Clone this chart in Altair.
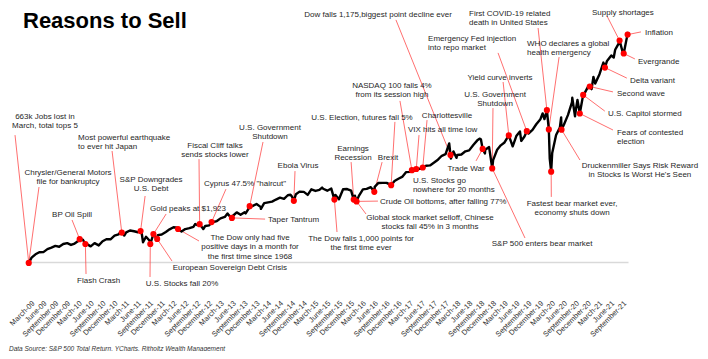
import altair as alt
import pandas as pd

# S&P 500 total return, growth of $100 from the March 2009 low
line_dates = [
    "2009-03-31", "2009-04-30", "2009-05-29", "2009-06-30", "2009-07-31", "2009-08-31", "2009-09-30", "2009-10-30", "2009-11-30", "2009-12-31",
    "2010-01-29", "2010-02-26", "2010-03-31", "2010-04-30", "2010-05-31", "2010-06-30", "2010-07-30", "2010-08-31", "2010-09-30", "2010-10-29", "2010-11-30", "2010-12-31",
    "2011-01-31", "2011-02-18", "2011-02-28", "2011-03-16", "2011-03-31", "2011-04-29", "2011-05-31", "2011-06-30", "2011-07-29", "2011-08-08", "2011-08-31", "2011-09-30", "2011-10-31", "2011-11-30", "2011-12-30",
    "2012-01-31", "2012-02-29", "2012-03-30", "2012-04-30", "2012-05-31", "2012-06-29", "2012-07-31", "2012-08-31", "2012-09-14", "2012-09-28", "2012-10-31", "2012-11-15", "2012-11-30", "2012-12-31",
    "2013-01-31", "2013-02-28", "2013-03-28", "2013-04-30", "2013-05-21", "2013-05-31", "2013-06-28", "2013-07-31", "2013-08-30", "2013-09-30", "2013-10-08", "2013-10-31", "2013-11-29", "2013-12-31",
    "2014-01-31", "2014-02-03", "2014-02-28", "2014-03-31", "2014-04-30", "2014-05-30", "2014-06-30", "2014-07-31", "2014-08-29", "2014-09-19", "2014-09-30", "2014-10-31", "2014-11-28", "2014-12-31",
    "2015-01-30", "2015-02-27", "2015-03-31", "2015-04-30", "2015-05-21", "2015-05-29", "2015-06-30", "2015-07-31", "2015-08-31", "2015-09-28", "2015-10-30", "2015-11-30", "2015-12-31",
    "2016-01-29", "2016-02-29", "2016-03-31", "2016-04-29", "2016-05-31", "2016-06-30", "2016-07-29", "2016-08-31", "2016-09-30", "2016-10-31", "2016-11-30", "2016-12-30",
    "2017-01-31", "2017-02-28", "2017-03-31", "2017-04-28", "2017-05-31", "2017-06-30", "2017-07-31", "2017-08-31", "2017-09-29", "2017-10-31", "2017-11-30", "2017-12-29",
    "2018-01-26", "2018-02-08", "2018-02-28", "2018-03-23", "2018-03-29", "2018-04-30", "2018-05-31", "2018-06-29", "2018-07-31", "2018-08-31", "2018-09-20", "2018-09-28", "2018-10-29", "2018-10-31", "2018-11-30", "2018-12-31",
    "2019-01-31", "2019-02-28", "2019-03-29", "2019-05-31", "2019-06-28", "2019-07-26", "2019-08-05", "2019-08-30", "2019-09-30", "2019-10-31", "2019-11-29", "2019-12-31",
    "2020-01-17", "2020-01-31", "2020-03-12", "2020-03-31", "2020-04-30", "2020-05-29", "2020-06-08", "2020-06-30", "2020-07-31", "2020-08-31", "2020-09-02", "2020-09-23", "2020-09-30", "2020-10-12", "2020-11-30", "2020-12-31",
    "2021-01-29", "2021-02-12", "2021-02-26", "2021-03-31", "2021-04-30", "2021-05-28", "2021-06-30", "2021-07-19", "2021-07-30", "2021-08-31", "2021-09-30", "2021-10-29", "2021-11-05",
]
line_values = [
    114.7, 125.7, 132.6, 132.8, 142.9, 148.1, 153.6, 150.8, 159.9, 162.9,
    156.9, 161.6, 171.4, 174.4, 160.3, 152.1, 162.8, 155.3, 169.2, 175.7, 175.7, 187.6,
    192.1, 200.9, 198.7, 188.2, 198.8, 204.9, 202.4, 199.1, 195.1, 166.0, 184.3, 170.0, 190.2, 189.7, 191.6,
    200.2, 208.9, 215.7, 214.5, 201.3, 209.7, 212.7, 217.4, 226.8, 223.1, 218.9, 210.0, 219.9, 221.9,
    233.4, 236.5, 245.4, 250.2, 261.7, 255.9, 252.5, 265.4, 257.5, 265.8, 261.8, 278.0, 286.3, 293.5,
    283.7, 277.0, 296.3, 298.8, 301.3, 308.2, 314.4, 310.3, 322.5, 324.2, 318.1, 325.9, 334.6, 333.8,
    323.8, 342.3, 336.9, 340.2, 348.2, 344.3, 337.7, 344.8, 323.8, 309.2, 342.6, 343.2, 337.9,
    321.3, 320.5, 342.2, 343.6, 349.6, 350.5, 363.5, 363.6, 363.8, 357.2, 370.1, 377.5,
    384.7, 399.7, 400.3, 404.3, 409.8, 412.4, 420.9, 422.0, 430.7, 441.1, 454.1, 459.4,
    495.0, 445.0, 468.4, 447.2, 456.6, 458.4, 469.0, 472.1, 490.0, 505.5, 511.3, 508.5, 461.6, 474.1, 483.0, 439.5,
    474.3, 488.9, 498.5, 485.5, 519.9, 535.3, 503.6, 518.5, 528.4, 540.2, 559.1, 576.1,
    595.1, 576.5, 444.6, 463.7, 523.3, 547.9, 582.1, 558.6, 590.4, 632.8, 647.3, 585.9, 608.7, 640.0, 657.8, 682.8,
    676.3, 717.2, 695.1, 725.9, 764.7, 770.2, 788.3, 781.8, 807.4, 832.2, 793.5, 849.6, 867.0,
]

# marked events (red dots), also points of the line
event_keys = ["start", "bp", "flash", "quake", "downgrade", "fall20", "gold", "euro", "dow5", "cliff",
              "cyprus", "taper", "shutdown13", "ebola", "dow1000", "earnings", "selloff", "brexit", "election",
              "nasdaq", "vix", "charlottesville", "dow1175", "tradewar", "bear18", "yield", "repo", "covid",
              "who", "fastest", "drucken", "contested", "capitol", "secondwave", "delta", "supply",
              "evergrande", "inflation"]
event_dates = ["2009-03-09", "2010-04-06", "2010-05-20", "2011-02-25", "2011-07-20", "2011-10-03", "2011-10-27",
               "2011-11-25", "2012-05-04", "2012-10-18", "2013-01-18", "2013-06-24", "2013-11-08", "2014-10-15",
               "2015-08-24", "2016-01-20", "2016-02-11", "2016-06-27", "2016-11-04", "2017-04-13", "2017-05-17",
               "2017-07-06", "2018-02-05", "2018-10-11", "2018-12-24", "2019-05-01", "2019-09-17", "2020-02-19",
               "2020-03-05", "2020-03-23", "2020-06-11", "2020-10-30", "2020-11-25", "2021-01-15", "2021-05-12",
               "2021-09-02", "2021-10-04", "2021-11-03"]
event_values = [97, 176, 160, 198, 203, 160, 193, 177, 210, 226, 233, 247, 286, 304, 308, 308, 302, 334, 356,
                406, 410, 415, 457, 477, 412, 522, 536, 606, 542, 401, 541, 595, 657, 685, 748, 838, 795, 858]

# annotations: text, event, align, label position (date, value), leader end near the label (date, value)
annotations = [
    ("663k Jobs lost in\nMarch, total tops 5", "start", "center", "2009-07-12", 598, "2008-11-23", 523),
    ("Chrysler/General Motors\nfile for bankruptcy", "start", "center", "2010-01-06", 411, "2009-05-27", 350),
    ("BP Oil Spill", "bp", "center", "2010-02-06", 271, "2010-02-06", 240),
    ("Flash Crash", "flash", "center", "2010-08-30", 51, "2010-05-25", 60),
    ("Most powerful earthquake\nto ever hit Japan", "quake", "left", "2010-03-25", 528, "2010-12-12", 470),
    ("S&P Downgrades\nU.S. Debt", "downgrade", "center", "2011-10-09", 388, "2011-08-24", 320),
    ("Gold peaks at $1,923", "gold", "center", "2012-07-20", 291, "2012-02-02", 260),
    ("U.S. Stocks fall 20%", "fall20", "center", "2012-06-04", 41, "2011-10-01", 50),
    ("European Sovereign Debt Crisis", "euro", "center", "2013-06-08", 94, "2012-03-19", 103),
    ("Fiscal Cliff talks\nsends stocks lower", "cliff", "center", "2013-02-13", 501, "2012-10-13", 443),
    ("Cyprus 47.5% \"haircut\"", "cyprus", "left", "2012-11-20", 374, "2013-05-09", 343),
    ("The Dow only had five\npositive days in a month for\nthe first time since 1968", "dow5", "center", "2013-11-11", 194, "2012-10-13", 170),
    ("Taper Tantrum", "taper", "left", "2014-03-30", 254, "2014-03-07", 243),
    ("U.S. Government\nShutdown", "shutdown13", "center", "2014-04-14", 561, "2014-02-19", 500),
    ("Ebola Virus", "ebola", "center", "2014-11-16", 434, "2014-10-24", 403),
    ("The Dow falls 1,000 points for\nthe first time ever", "dow1000", "center", "2016-03-17", 191, "2015-09-13", 200),
    ("Earnings\nRecession", "earnings", "center", "2016-01-15", 491, "2015-12-31", 433),
    ("Brexit", "brexit", "center", "2016-10-11", 461, "2016-08-26", 433),
    ("Crude Oil bottoms, after falling 77%", "selloff", "left", "2016-08-10", 314, "2016-07-25", 303),
    ("Global stock market selloff, Chinese\nstocks fall 45% in 3 months", "selloff", "center", "2017-08-31", 261, "2016-04-24", 260),
    ("U.S. Election, futures fall 5%", "election", "center", "2016-03-24", 594, "2016-12-03", 567),
    ("NASDAQ 100 falls 4%\nfrom its  session high", "nasdaq", "center", "2016-11-10", 701, "2017-01-11", 637),
    ("Charlottesville", "charlottesville", "center", "2018-01-09", 601, "2017-08-08", 573),
    ("VIX hits all time low", "vix", "left", "2017-03-14", 554, "2017-06-07", 523),
    ("U.S. Stocks go\nnowhere for 20 months", None, "left", "2017-04-21", 384, None, None),
    ("Dow falls 1,175,biggest point decline ever", "dow1175", "center", "2016-07-26", 938, "2016-12-11", 907),
    ("Trade War", "tradewar", "center", "2018-06-05", 424, "2018-08-21", 437),
    ("U.S. Government\nShutdown", "bear18", "center", "2019-01-15", 671, "2018-12-30", 613),
    ("S&P 500 enters bear market", "bear18", "center", "2020-01-13", 174, "2019-09-03", 180),
    ("Yield curve inverts", "yield", "center", "2019-02-22", 728, "2019-03-18", 700),
    ("Emergency Fed injection\ninto repo market", "repo", "left", "2017-08-16", 858, "2019-02-07", 797),
    ("First COVID-19 related\ndeath in United States", "covid", "left", "2018-06-28", 941, "2019-12-13", 880),
    ("WHO declares a global\nhealth emergency", "who", "left", "2019-09-19", 841, "2020-05-23", 783),
    ("Fastest bear market ever,\neconomy shuts down", "fastest", "center", "2020-08-31", 308, "2020-03-24", 317),
    ("Druckenmiller Says Risk Reward\nin Stocks Is Worst He's Seen", "drucken", "center", "2022-02-06", 434, "2020-10-31", 440),
    ("Fears of contested\nelection", "contested", "left", "2021-08-13", 544, "2021-07-13", 540),
    ("U.S. Capitol stormed", "capitol", "left", "2021-06-04", 608, "2021-05-11", 603),
    ("Second wave", "secondwave", "left", "2021-08-13", 674, "2021-07-13", 667),
    ("Delta variant", "delta", "left", "2021-11-21", 718, "2021-10-28", 713),
    ("Evergrande", "evergrande", "left", "2022-01-22", 781, "2021-12-29", 777),
    ("Supply shortages", "supply", "left", "2021-02-01", 945, "2021-05-28", 920),
    ("Inflation", "inflation", "left", "2022-03-17", 878, "2022-02-14", 867),
]

title_text = "Reasons to Sell"
source_text = "Data Source: S&P 500 Total Return, YCharts, Ritholtz Wealth Management"

# ---------------- tables ----------------
line_df = pd.DataFrame({"date": line_dates + event_dates, "value": line_values + event_values})
line_df = line_df.sort_values("date").reset_index(drop=True)
events_df = pd.DataFrame({"key": event_keys, "date": event_dates, "value": event_values})
ev = {k: (d, v) for k, d, v in zip(event_keys, event_dates, event_values)}

lead_rows, left_rows, center_rows = [], [], []
for text, key, align, ld, lv, ed, evv in annotations:
    row = {"text": text, "ldate": ld, "lvalue": lv}
    (left_rows if align == "left" else center_rows).append(row)
    if key is not None:
        d, v = ev[key]
        lead_rows.append({"date": d, "value": v, "ldate": ed, "lvalue": evv})
lead_df = pd.DataFrame(lead_rows)
left_df = pd.DataFrame(left_rows)
center_df = pd.DataFrame(center_rows)

FONT = "Liberation Sans"
x_scale = alt.Scale(type="utc",
                    domain=[alt.DateTime(year=2009, month=2, date=8, utc=True),
                            alt.DateTime(year=2021, month=11, date=6, utc=True)])
y_scale = alt.Scale(domain=[100, 886.7], zero=False, nice=False)

# quarterly label positions (placed a few days into the month, as in the original's label layout)
tick_values = []
for yr in range(2009, 2022):
    for m in (3, 6, 9, 12):
        if yr == 2021 and m == 12:
            continue
        tick_values.append(alt.DateTime(year=yr, month=m, date=22, utc=True))

x_axis = alt.Axis(values=tick_values, labelExpr="utcFormat(datum.value, '%B-%y')",
                  labelAngle=-45, labelFontSize=7.5, labelFont=FONT, labelColor="#333333",
                  labelPadding=37, ticks=False, grid=False,
                  domainColor="#d9d9d9", domainWidth=1.3, title=None,
                  labelOverlap=False, labelFlush=False, labelBound=False)


def xenc(field):
    return alt.X(field, type="temporal", scale=x_scale, axis=x_axis)


def yenc(field):
    return alt.Y(field, type="quantitative", scale=y_scale, axis=None)


leaders = alt.Chart(lead_df).mark_rule(color="#ff4a4a", strokeWidth=0.8).encode(
    x=xenc("date"), y=yenc("value"), x2="ldate:T", y2="lvalue:Q")

line = alt.Chart(line_df).mark_line(color="black", strokeWidth=2.4, strokeJoin="round").encode(
    x=xenc("date"), y=yenc("value"))

dots = alt.Chart(events_df).mark_circle(color="#ff0000", size=38, opacity=1).encode(
    x=xenc("date"), y=yenc("value"))

text_style = dict(font=FONT, fontSize=8, color="#1f1f1f", lineBreak="\n", baseline="top", lineHeight=9.5)
labels_left = alt.Chart(left_df).mark_text(align="left", **text_style).encode(
    x=xenc("ldate"), y=yenc("lvalue"), text="text:N")
labels_center = alt.Chart(center_df).mark_text(align="center", **text_style).encode(
    x=xenc("ldate"), y=yenc("lvalue"), text="text:N")

title = alt.Chart(pd.DataFrame({"t": [title_text]})).mark_text(
    align="left", baseline="alphabetic", font=FONT, fontSize=22, fontWeight="bold", color="black"
).encode(text="t:N", x=alt.value(-2), y=alt.value(2))

source = alt.Chart(pd.DataFrame({"t": [source_text]})).mark_text(
    align="left", baseline="alphabetic", font=FONT, fontSize=6.5, fontStyle="italic", color="#333333"
).encode(text="t:N", x=alt.value(-16), y=alt.value(325))

chart = alt.layer(leaders, line, dots, labels_left, labels_center, title, source).properties(
    width=603, height=236,
    padding={"left": 17, "top": 18, "right": 72, "bottom": 89},
    autosize=alt.AutoSizeParams(type="none"),
).configure_view(stroke=None)

chart.save("out.html", embed_options={"renderer": "svg", "actions": False})
